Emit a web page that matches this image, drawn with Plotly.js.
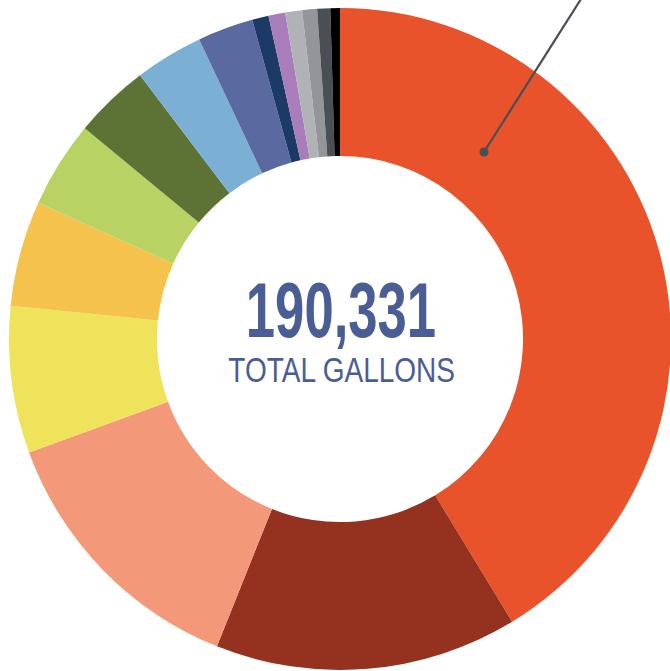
<!DOCTYPE html>
<html>
<head>
<meta charset="utf-8">
<script src="https://cdn.plot.ly/plotly-3.0.1.min.js"></script>
<style>
html,body{margin:0;padding:0;overflow:hidden;background:#fff;}
#chart{width:680px;height:680px;}
</style>
</head>
<body>
<div id="chart"></div>
<script>
const categories = ["Category 1","Category 2","Category 3","Category 4","Category 5","Category 6","Category 7","Category 8","Category 9","Category 10","Category 11","Category 12","Category 13","Category 14","Category 15"];
const gallons = [78600, 28100, 25450, 13650, 9800, 8050, 7030, 6340, 5180, 1530, 1560, 1560, 1380, 1210, 891];
const colors = ["#e9532b","#95311f","#f4987a","#efe35c","#f5c24b","#b8d263","#5d7335","#7bafd4","#5a6aa0","#1b3a66","#a87db9","#b0b2b5","#939598","#4a4f56","#000000"];
const totalLabel = "190,331";
const subLabel = "TOTAL GALLONS";

const W = 680, H = 680;
const cx = 340, cy = 339, R = 331;
const px = x => x / W;
const py = y => 1 - y / H;

const trace = {
  type: "pie",
  labels: categories,
  values: gallons,
  sort: false,
  direction: "clockwise",
  rotation: 0,
  hole: 0.553,
  textinfo: "none",
  hoverinfo: "label+value",
  marker: {colors: colors, line: {width: 0}},
  domain: {x: [px(cx - R), px(cx + R)], y: [py(cy + R), py(cy - R)]},
  showlegend: false
};

const layout = {
  width: W, height: H,
  margin: {l:0, r:0, t:0, b:0},
  paper_bgcolor: "#ffffff",
  showlegend: false,
  annotations: [
    {text: "<b>" + totalLabel + "</b>", x: px(341), y: py(310), xref: "paper", yref: "paper", showarrow: false,
     font: {family: "Liberation Sans, Arial, sans-serif", size: 78, color: "#4b5d95"}, xanchor: "center", yanchor: "middle"},
    {text: subLabel, x: px(341), y: py(369), xref: "paper", yref: "paper", showarrow: false,
     font: {family: "Liberation Sans, Arial, sans-serif", size: 35, color: "#4b5d95"}, xanchor: "center", yanchor: "middle"}
  ],
  shapes: [
    {type: "line", xref: "paper", yref: "paper", x0: px(484), y0: py(152), x1: px(588), y1: py(-12),
     line: {color: "#4a4f56", width: 2.2}},
    {type: "circle", xref: "paper", yref: "paper", x0: px(479.5), y0: py(147.5), x1: px(488.5), y1: py(156.5),
     fillcolor: "#4a4f56", line: {width: 0}}
  ]
};

Plotly.newPlot("chart", [trace], layout, {displayModeBar: false, staticPlot: true}).then(function(gd){
  const scales = [0.675, 0.80];
  gd.querySelectorAll(".annotation-text").forEach(function(t, i){
    t.style.transformBox = "fill-box";
    t.style.transformOrigin = "center";
    t.style.transform = "scaleX(" + scales[i] + ")";
  });
});
</script>
</body>
</html>
